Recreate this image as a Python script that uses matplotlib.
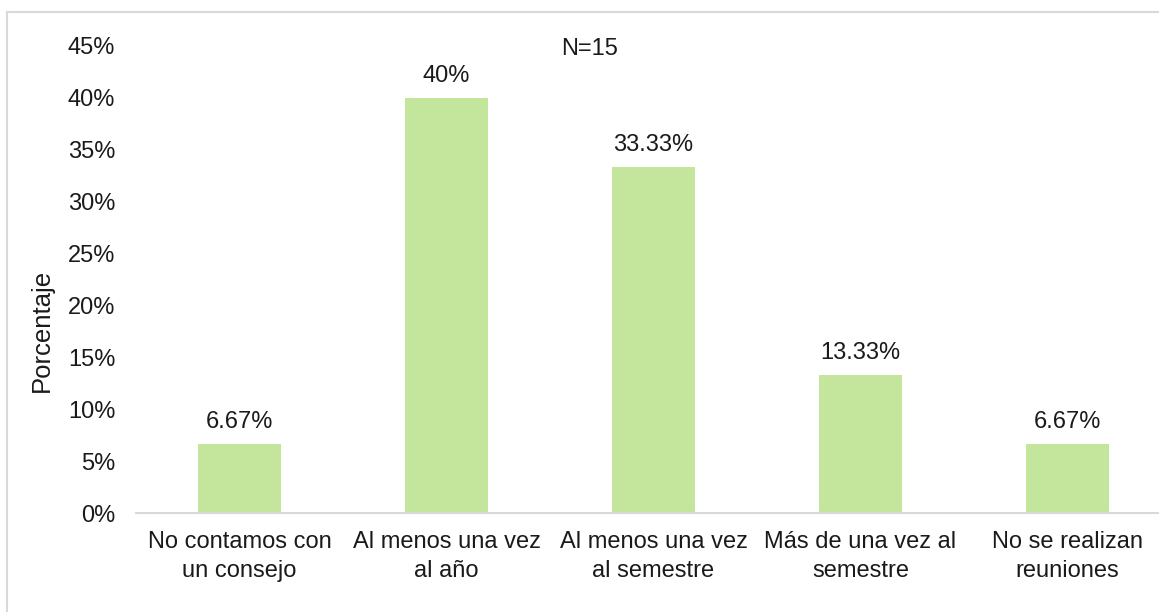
import numpy as np
import matplotlib
matplotlib.use("Agg")
import matplotlib.pyplot as plt
from matplotlib.lines import Line2D

plt.rcParams['font.family'] = ['Liberation Sans', 'DejaVu Sans']

categories = ["No contamos con\nun consejo", "Al menos una vez\nal año",
              "Al menos una vez\nal semestre", "Más de una vez al\nsemestre",
              "No se realizan\nreuniones"]
values = [6.67, 40, 33.33, 13.33, 6.67]
labels = ["6.67%", "40%", "33.33%", "13.33%", "6.67%"]
yticks = [0, 5, 10, 15, 20, 25, 30, 35, 40, 45]

W, H = 1159, 612
fig = plt.figure(figsize=(W / 100, H / 100), dpi=100)
ax = fig.add_axes([136 / W, 99 / H, 1035 / W, 467 / H])

x = np.arange(len(categories))
ax.bar(x, values, width=0.4, color='#C3E59C', zorder=2)

for xi, v, lab in zip(x, values, labels):
    ax.annotate(lab, (xi, v), xytext=(0, 8), textcoords='offset points',
                ha='center', va='bottom', fontsize=17, color='#1a1a1a')

ax.set_xlim(-0.5, len(categories) - 0.5)
ax.set_ylim(0, 45)
ax.set_yticks(yticks)
ax.set_yticklabels([f"{t}%" for t in yticks])
ax.set_xticks(x)
ax.set_xticklabels(categories, linespacing=1.4)
ax.tick_params(axis='y', length=0, pad=15, labelsize=17, labelcolor='#1a1a1a')
ax.tick_params(axis='x', length=0, pad=13, labelsize=17, labelcolor='#1a1a1a')

for s in ['top', 'right', 'left']:
    ax.spines[s].set_visible(False)
ax.spines['bottom'].set_color('#D9D9D9')
ax.spines['bottom'].set_linewidth(1.5)

ax.set_ylabel("Porcentaje", fontsize=18.5, color='#1a1a1a')
ax.yaxis.set_label_coords(-0.079, 0.39)

ax.text(0.438, 0.993, "N=15", transform=ax.transAxes, ha='center', va='center',
        fontsize=17, color='#1a1a1a')

# outer chart frame
fig.add_artist(Line2D([7 / W, 7 / W], [0, 1 - 12 / H], transform=fig.transFigure,
                      color='#D9D9D9', lw=1.5))
fig.add_artist(Line2D([7 / W, 1], [1 - 12 / H, 1 - 12 / H], transform=fig.transFigure,
                      color='#D9D9D9', lw=1.5))

fig.savefig("out.png", dpi=100)
